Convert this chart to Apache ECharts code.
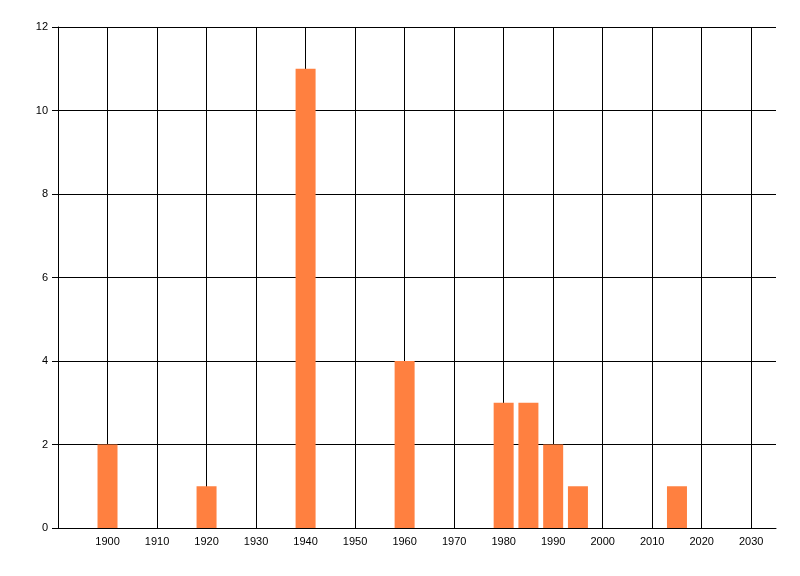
<!DOCTYPE html>
<html>
<head>
<meta charset="utf-8">
<script src="https://cdn.jsdelivr.net/npm/echarts@6/dist/echarts.min.js"></script>
<style>html,body{margin:0;padding:0;background:#fff}#c{width:800px;height:576px}</style>
</head>
<body>
<div id="c"></div>
<script>
const years = [1900, 1920, 1940, 1960, 1980, 1985, 1990, 1995, 2015];
const counts = [2, 1, 11, 4, 3, 3, 2, 1, 1];
const xMin = 1890, xMax = 2035, xStep = 10;
const yMin = 0, yMax = 12, yStep = 2;

const chart = echarts.init(document.getElementById('c'), null, {renderer: 'canvas'});
const font = {fontFamily: 'Liberation Sans', fontSize: 11, color: '#000'};
chart.setOption({
  animation: false,
  backgroundColor: '#fff',
  grid: {left: 58, top: 27, right: 24, bottom: 48, containLabel: false},
  xAxis: {
    type: 'value', min: xMin, max: xMax, interval: xStep,
    axisLine: {show: true, onZero: false, lineStyle: {color: '#000', width: 1}},
    axisTick: {show: false},
    axisLabel: Object.assign({margin: 8, showMaxLabel: false,
      formatter: v => (v >= 1900 && v % 10 === 0) ? String(v) : ''}, font),
    splitLine: {show: true, showMaxLine: false, lineStyle: {color: '#000', width: 1}}
  },
  yAxis: {
    type: 'value', min: yMin, max: yMax, interval: yStep,
    axisLine: {show: true, lineStyle: {color: '#000', width: 1}},
    axisTick: {show: true, length: 6, lineStyle: {color: '#000'}},
    axisLabel: Object.assign({margin: 10}, font),
    splitLine: {show: true, lineStyle: {color: '#000', width: 1}}
  },
  series: [{
    type: 'bar',
    barWidth: 20,
    itemStyle: {color: '#ff8040'},
    data: years.map((y, i) => [y, counts[i]])
  }]
});
</script>
</body>
</html>
